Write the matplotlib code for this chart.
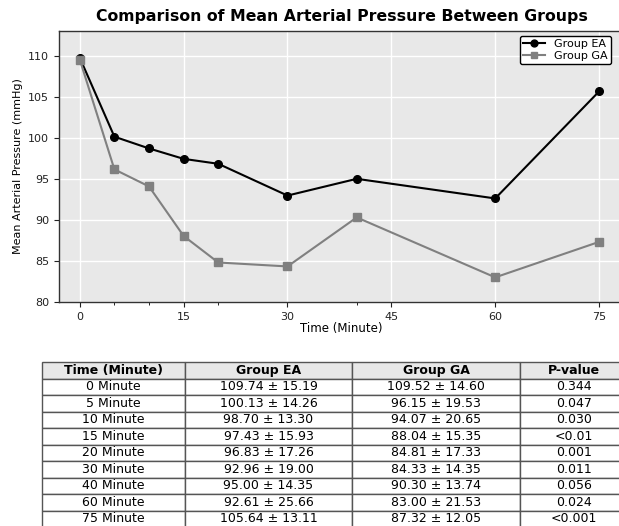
import numpy as np
import matplotlib.pyplot as plt

times = [0, 5, 10, 15, 20, 30, 40, 60, 75]
ea_mean = [109.74, 100.13, 98.70, 97.43, 96.83, 92.96, 95.00, 92.61, 105.64]
ea_sd = [15.19, 14.26, 13.30, 15.93, 17.26, 19.00, 14.35, 25.66, 13.11]
ga_mean = [109.52, 96.15, 94.07, 88.04, 84.81, 84.33, 90.30, 83.00, 87.32]
ga_sd = [14.60, 19.53, 20.65, 15.35, 17.33, 14.35, 13.74, 21.53, 12.05]
p_values = ["0.344", "0.047", "0.030", "<0.01", "0.001", "0.011", "0.056", "0.024", "<0.001"]
col_labels = ["Time (Minute)", "Group EA", "Group GA", "P-value"]

W, H = 619, 526
fig = plt.figure(figsize=(W / 100, H / 100), dpi=100)

def box(x0, y0, x1, y1):
    # pixel box -> figure fraction
    return [x0 / W, 1 - y1 / H, (x1 - x0) / W, (y1 - y0) / H]

ax = fig.add_axes(box(59, 31, 624, 302))
ax.set_facecolor('#e8e8e8')
ax.grid(True, color='white', linewidth=1.0)
ax.set_axisbelow(True)
for s in ax.spines.values():
    s.set_color('#333333')
    s.set_linewidth(1.0)

ax.plot(times, ea_mean, '-o', color='black', markersize=5.5, linewidth=1.5, label='Group EA')
ax.plot(times, ga_mean, '-s', color='#808080', markersize=5.5, linewidth=1.5, label='Group GA')

ax.set_xlim(-3.0, 78.6)
ax.set_ylim(80, 113)
ax.set_xticks([0, 15, 30, 45, 60, 75])
ax.set_xticks([5, 10, 20, 40], minor=True)
ax.set_yticks([80, 85, 90, 95, 100, 105, 110])
ax.tick_params(labelsize=8, colors='#222222')
ax.tick_params(which='minor', length=2.5)
ax.set_xlabel('Time (Minute)', fontsize=8.5, labelpad=0)
ax.set_ylabel('Mean Arterial Pressure (mmHg)', fontsize=8, labelpad=4)
ax.set_title('Comparison of Mean Arterial Pressure Between Groups',
             fontsize=11.3, fontweight='bold', pad=7)
leg = ax.legend(loc='upper right', bbox_to_anchor=(0.983, 0.995), fontsize=8,
                frameon=True, edgecolor='black', fancybox=True, framealpha=1,
                borderaxespad=0.3, handlelength=2.0, labelspacing=0.15,
                borderpad=0.3, markerscale=0.9)
leg.get_frame().set_linewidth(1.0)

# table
rows = []
for t, em, es, gm, gs, p in zip(times, ea_mean, ea_sd, ga_mean, ga_sd, p_values):
    rows.append([f"{t} Minute", f"{em:.2f} \u00b1 {es:.2f}", f"{gm:.2f} \u00b1 {gs:.2f}", p])

tax = fig.add_axes(box(42, 362, 628, 527))
tax.axis('off')
widths = np.array([143, 167, 168, 108], dtype=float)
widths = widths / widths.sum()
tbl = tax.table(cellText=rows, colLabels=col_labels, cellLoc='center',
                colWidths=list(widths), bbox=[0, 0, 1, 1])
tbl.auto_set_font_size(False)
tbl.set_fontsize(9)
for (r, c), cell in tbl.get_celld().items():
    cell.set_edgecolor('#555555')
    cell.set_linewidth(1.0)
    if r == 0:
        cell.set_facecolor('#e8e8e8')
        cell.get_text().set_fontweight('bold')

fig.savefig('out.png', dpi=100)
